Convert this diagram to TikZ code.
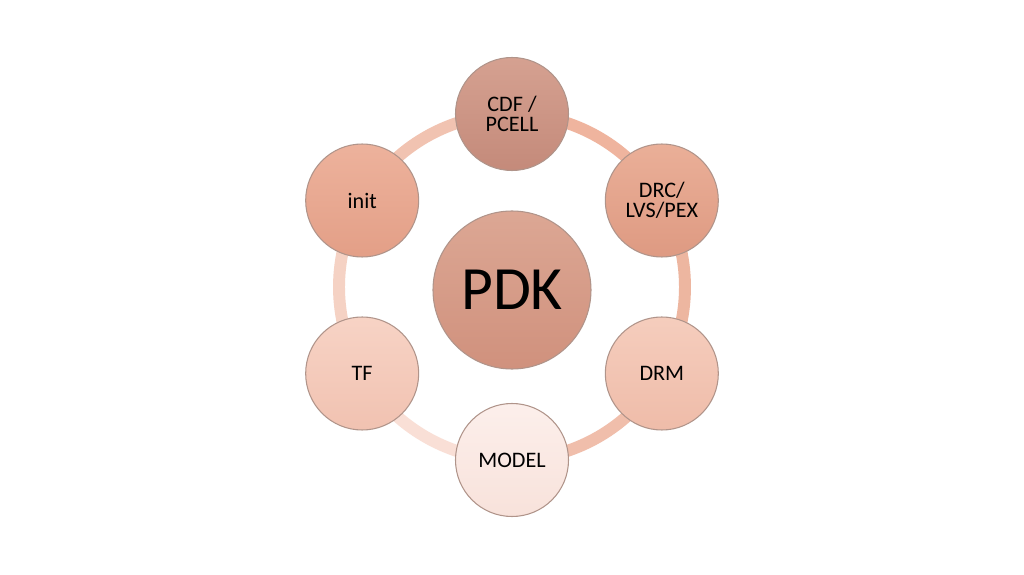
\documentclass[tikz,border=0pt]{standalone}
\usepackage{fontspec}
\setmainfont{Carlito}
\usepackage{tikz}
\usetikzlibrary{calc,backgrounds}
\definecolor{rimBrown}{HTML}{B0948A}
\definecolor{cdfTop}{HTML}{D5A191}
\definecolor{cdfBot}{HTML}{C48A7A}
\definecolor{pdkTop}{HTML}{DCA794}
\definecolor{pdkBot}{HTML}{D0917D}
\definecolor{drcTop}{HTML}{EAAF98}
\definecolor{drcBot}{HTML}{DE9A82}
\definecolor{initTop}{HTML}{EDB29C}
\definecolor{initBot}{HTML}{E39F87}
\definecolor{drmTop}{HTML}{F5CDBD}
\definecolor{drmBot}{HTML}{EFBCA9}
\definecolor{tfTop}{HTML}{F7D3C5}
\definecolor{tfBot}{HTML}{F1C2B1}
\definecolor{modelTop}{HTML}{FCEFEB}
\definecolor{modelBot}{HTML}{F8E2DB}

\begin{document}
\begin{tikzpicture}[
    bubble/.style={circle, draw=rimBrown, line width=0.3pt, minimum size=1.13cm,
                   inner sep=0pt, align=center, font=\fontsize{6.3}{5.8}\selectfont},
    hubble/.style={bubble, minimum size=1.58cm, font=\fontsize{17.5}{20}\selectfont},
    ring/.style={line width=3.4pt}
]
    \useasboundingbox (0, 0) rectangle (10.24, 5.74);
    \coordinate (hub) at (5.12, 2.87);
    \node[hubble, top color=pdkTop, bottom color=pdkBot] (pdk) at (5.12, 2.84) {PDK};
    \node[bubble, top color=cdfTop, bottom color=cdfBot] (cdf) at ($(hub) + (90:1.73)$) {CDF /\\PCELL};
    \node[bubble, top color=drcTop, bottom color=drcBot] (drc) at ($(hub) + (30:1.73)$) {DRC/\\LVS/PEX};
    \node[bubble, top color=drmTop, bottom color=drmBot] (drm) at ($(hub) + (-30:1.73)$) {DRM};
    \node[bubble, top color=modelTop, bottom color=modelBot] (model) at ($(hub) + (-90:1.73)$) {MODEL};
    \node[bubble, top color=tfTop, bottom color=tfBot] (tf) at ($(hub) + (210:1.73)$) {TF};
    \node[bubble, top color=initTop, bottom color=initBot] (init) at ($(hub) + (150:1.73)$) {init};
    \begin{scope}[on background layer]
        \fill[white] (0, 0) rectangle (10.24, 5.74);
        \draw[ring, color={rgb,255:red,239;green,180;blue,158}] (cdf.center) arc[start angle=90, end angle=30, radius=1.73];
        \draw[ring, color={rgb,255:red,237;green,182;blue,160}] (drc.center) arc[start angle=30, end angle=-30, radius=1.73];
        \draw[ring, color={rgb,255:red,240;green,190;blue,171}] (drm.center) arc[start angle=-30, end angle=-90, radius=1.73];
        \draw[ring, color={rgb,255:red,249;green,223;blue,214}] (model.center) arc[start angle=-90, end angle=-150, radius=1.73];
        \draw[ring, color={rgb,255:red,245;green,210;blue,196}] (tf.center) arc[start angle=210, end angle=150, radius=1.73];
        \draw[ring, color={rgb,255:red,241;green,195;blue,177}] (init.center) arc[start angle=150, end angle=90, radius=1.73];
    \end{scope}
\end{tikzpicture}
\end{document}
